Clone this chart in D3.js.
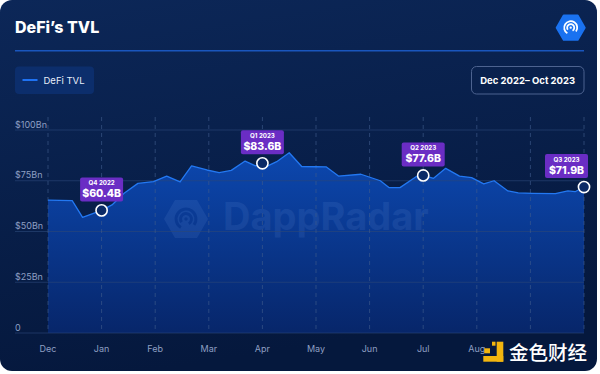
<!DOCTYPE html>
<html lang="en">
<head>
<meta charset="utf-8">
<title>DeFi's TVL</title>
<style>
  html,body { margin:0; padding:0; background:#ffffff; overflow:hidden; }
  svg { display:block; font-family: Inter, "Noto Sans", sans-serif; }
</style>
<script src="https://d3js.org/d3.v7.min.js"></script>
</head>
<body>
<svg width="600" height="374"></svg>
<script>
// ---- data ----
const months = ["Dec", "Jan", "Feb", "Mar", "Apr", "May", "Jun", "Jul", "Aug", "Sep", "Oct"];
// Sep / Oct labels sit under the 金色财经 watermark in the reference
const hiddenMonthLabels = ["Sep", "Oct"];
const yTicks = [0, 25, 50, 75, 100];
const yTickLabels = ["0", "$25Bn", "$50Bn", "$75Bn", "$100Bn"];

const dates = [
  "2022-12-01", "2022-12-15", "2022-12-21",
  "2023-01-01", "2023-01-07", "2023-01-14", "2023-01-22", "2023-01-31",
  "2023-02-07", "2023-02-14", "2023-02-20", "2023-02-28",
  "2023-03-07", "2023-03-14", "2023-03-22", "2023-03-28",
  "2023-04-01", "2023-04-04", "2023-04-09", "2023-04-16", "2023-04-23",
  "2023-05-01", "2023-05-07", "2023-05-14", "2023-05-27",
  "2023-06-07", "2023-06-12", "2023-06-18", "2023-06-27",
  "2023-07-01", "2023-07-07", "2023-07-14", "2023-07-22", "2023-07-29",
  "2023-08-05", "2023-08-11", "2023-08-19", "2023-08-25",
  "2023-09-02", "2023-09-15", "2023-09-22", "2023-09-26",
  "2023-10-01"
];
const tvl = [
  65.5, 65.2, 57.0,
  60.4, 63.1, 68.8, 73.7, 74.6,
  77.3, 74.4, 82.3, 80.3,
  79.0, 80.1, 84.7, 82.3,
  83.6, 82.3, 84.4, 88.8, 82.0,
  81.9, 81.8, 77.3, 78.2,
  75.0, 71.6, 71.6, 77.0,
  77.6, 76.2, 81.1, 77.3, 76.5,
  73.5, 75.0, 70.0, 69.0,
  68.8, 68.7, 70.0, 69.6,
  71.9
];

const markerDates = ["2023-01-01", "2023-04-01", "2023-07-01", "2023-10-01"];
const markerValues = [60.4, 83.6, 77.6, 71.9];
const markerLabels = ["Q4 2022", "Q1 2023", "Q2 2023", "Q3 2023"];

// ---- setup ----
const svg = d3.select("svg");
const start = new Date(Date.UTC(2022, 11, 1));

// months are drawn evenly spaced, so position = month index + fraction of month
function monthPos(s) {
  const d = new Date(s + "T00:00:00Z");
  const m0 = d3.utcMonth.floor(d);
  const m1 = d3.utcMonth.offset(m0, 1);
  return d3.utcMonth.count(start, m0) + (d - m0) / (m1 - m0);
}

const x = d3.scaleLinear().domain([0, 10]).range([48, 584]);
const y = d3.scaleLinear().domain([0, 100]).range([333, 130]);

const series = dates.map((d, i) => ({ t: monthPos(d), v: tvl[i] }));

const defs = svg.append("defs");
const bg = defs.append("linearGradient").attr("id", "bg")
  .attr("x1", 0).attr("y1", 0).attr("x2", 0.25).attr("y2", 1);
bg.append("stop").attr("offset", 0).attr("stop-color", "#0c2758");
bg.append("stop").attr("offset", 1).attr("stop-color", "#05183d");

const areaGrad = defs.append("linearGradient").attr("id", "areaGrad")
  .attr("gradientUnits", "userSpaceOnUse")
  .attr("x1", 0).attr("y1", 150).attr("x2", 0).attr("y2", 333);
areaGrad.append("stop").attr("offset", 0).attr("stop-color", "#0c48b0");
areaGrad.append("stop").attr("offset", 1).attr("stop-color", "#07266a");

// card
svg.append("rect")
  .attr("x", 0).attr("y", 0).attr("width", 597).attr("height", 371)
  .attr("rx", 12).attr("fill", "url(#bg)");

// title + separator
svg.append("text")
  .attr("x", 15).attr("y", 33)
  .attr("fill", "#ffffff").attr("font-size", 16).attr("font-weight", 800)
  .text("DeFi’s TVL");

svg.append("line")
  .attr("x1", 15).attr("x2", 584).attr("y1", 50.7).attr("y2", 50.7)
  .attr("stroke", "#1a56bd").attr("stroke-width", 1.4);

// header logo (hexagon + radar rings)
function hexPath(cx, cy, r) {
  return d3.line()(d3.range(6).map(i => {
    const a = Math.PI / 3 * i;
    return [cx + r * Math.cos(a), cy + r * Math.sin(a)];
  })) + "Z";
}
function radar(g, cx, cy, s, color, width) {
  const arc = d3.arc();
  g.append("path").attr("transform", `translate(${cx},${cy})`)
    .attr("d", arc({ innerRadius: 6.2 * s, outerRadius: 6.2 * s, startAngle: -2.6, endAngle: 2.2 }))
    .attr("fill", "none").attr("stroke", color).attr("stroke-width", width).attr("stroke-linecap", "round");
  g.append("path").attr("transform", `translate(${cx},${cy})`)
    .attr("d", arc({ innerRadius: 3.4 * s, outerRadius: 3.4 * s, startAngle: -2.2, endAngle: 2.6 }))
    .attr("fill", "none").attr("stroke", color).attr("stroke-width", width).attr("stroke-linecap", "round");
  g.append("circle").attr("cx", cx).attr("cy", cy).attr("r", 1.1 * s).attr("fill", color);
}
const logo = svg.append("g");
logo.append("path").attr("d", hexPath(570.7, 27.7, 14))
  .attr("fill", "#1a72f0").attr("stroke", "#1a72f0").attr("stroke-width", 2).attr("stroke-linejoin", "round");
radar(logo, 570.7, 27.7, 1.05, "#ffffff", 1.8);

// legend
svg.append("rect")
  .attr("x", 15).attr("y", 66.5).attr("width", 79).attr("height", 27.5)
  .attr("rx", 4).attr("fill", "#0c2e6c");
svg.append("line")
  .attr("x1", 22.5).attr("x2", 37.5).attr("y1", 80).attr("y2", 80)
  .attr("stroke", "#1f72f2").attr("stroke-width", 2);
svg.append("text")
  .attr("x", 43.5).attr("y", 83.5)
  .attr("fill", "#e6edf8").attr("font-size", 9.5)
  .text("DeFi TVL");

// date range box
svg.append("rect")
  .attr("x", 471.5).attr("y", 66.5).attr("width", 112.5).attr("height", 27.5)
  .attr("rx", 5).attr("fill", "none").attr("stroke", "#4d6390").attr("stroke-width", 1);
svg.append("text")
  .attr("x", 527.7).attr("y", 83.5).attr("text-anchor", "middle")
  .attr("fill", "#ffffff").attr("font-size", 9.5).attr("font-weight", 700)
  .text("Dec 2022– Oct 2023");

// area + line
const area = d3.area().x(d => x(d.t)).y0(y(0)).y1(d => y(d.v));
const line = d3.line().x(d => x(d.t)).y(d => y(d.v));

svg.append("path").datum(series)
  .attr("d", area).attr("fill", "url(#areaGrad)");

// faint DappRadar watermark
const wm = svg.append("g").attr("opacity", 0.09);
wm.append("path").attr("d", hexPath(186, 219, 22))
  .attr("fill", "#9cc0ff");
radar(wm, 186, 219, 1.6, "#0a2f78", 3);
wm.append("text")
  .attr("x", 223).attr("y", 230)
  .attr("fill", "#9cc0ff").attr("font-size", 38).attr("font-weight", 700)
  .text("DappRadar");

// horizontal grid
svg.append("g").selectAll("line")
  .data(yTicks).join("line")
  .attr("x1", 15).attr("x2", 584)
  .attr("y1", d => y(d)).attr("y2", d => y(d))
  .attr("stroke", "#2a4777").attr("stroke-opacity", 0.8).attr("stroke-width", 0.8);

// vertical dashed month lines
svg.append("g").selectAll("line")
  .data(months).join("line")
  .attr("x1", (d, i) => x(i)).attr("x2", (d, i) => x(i))
  .attr("y1", 117).attr("y2", y(0))
  .attr("stroke", "#3f5b8c").attr("stroke-opacity", 0.8).attr("stroke-width", 0.8)
  .attr("stroke-dasharray", "4,4");

svg.append("path").datum(series)
  .attr("d", line).attr("fill", "none")
  .attr("stroke", "#2378f2").attr("stroke-width", 1.3).attr("stroke-linejoin", "round");

// y labels
svg.append("g").selectAll("text")
  .data(yTicks).join("text")
  .attr("x", 15).attr("y", d => y(d) - 2.5)
  .attr("fill", "#8e9fc3").attr("font-size", 9)
  .text((d, i) => yTickLabels[i]);

// month labels
svg.append("g").selectAll("text")
  .data(months.map((m, i) => ({ m, i })).filter(d => !hiddenMonthLabels.includes(d.m)))
  .join("text")
  .attr("x", d => x(d.i)).attr("y", 352)
  .attr("text-anchor", "middle")
  .attr("fill", "#8e9fc3").attr("font-size", 9)
  .text(d => d.m);

// quarter markers with callouts
const markers = markerDates.map((d, i) => ({ t: monthPos(d), v: markerValues[i], label: markerLabels[i] }));
const mg = svg.append("g").selectAll("g").data(markers).join("g");
mg.append("circle")
  .attr("cx", d => x(d.t)).attr("cy", d => y(d.v)).attr("r", 5.6)
  .attr("fill", "#0b2a66").attr("stroke", "#ffffff").attr("stroke-width", 1.6);

const bw = 43, bh = 24;
const boxX = d => Math.min(x(d.t) - bw / 2, 588 - bw);
const boxY = d => y(d.v) - 9 - bh;
mg.append("rect")
  .attr("x", boxX).attr("y", boxY).attr("width", bw).attr("height", bh)
  .attr("rx", 2).attr("fill", "#6a2dc4");
mg.append("text")
  .attr("x", d => boxX(d) + bw / 2).attr("y", d => boxY(d) + 8)
  .attr("text-anchor", "middle").attr("fill", "#ffffff")
  .attr("font-size", 6.2).attr("font-weight", 700)
  .text(d => d.label);
mg.append("text")
  .attr("x", d => boxX(d) + bw / 2).attr("y", d => boxY(d) + 20)
  .attr("text-anchor", "middle").attr("fill", "#ffffff")
  .attr("font-size", 10.5).attr("font-weight", 800)
  .text(d => `$${d.v.toFixed(1)}B`);

// 金色财经 watermark (bottom right)
const jg = svg.append("g").attr("fill", "#f2b50f");
jg.append("rect").attr("x", 496.7).attr("y", 341.7).attr("width", 6.6).attr("height", 20);
jg.append("rect").attr("x", 483.3).attr("y", 356).attr("width", 20).attr("height", 5.7);
jg.append("rect").attr("x", 484.3).attr("y", 348.3).attr("width", 5.7).attr("height", 5);
jg.append("rect").attr("x", 492).attr("y", 341.7).attr("width", 3.5).attr("height", 4);
svg.append("text")
  .attr("x", 509).attr("y", 359.5)
  .attr("fill", "#ffffff").attr("font-size", 19.5)
  .attr("font-family", "'Noto Sans CJK SC', sans-serif").attr("font-weight", 500)
  .text("金色财经");
</script>
</body>
</html>
